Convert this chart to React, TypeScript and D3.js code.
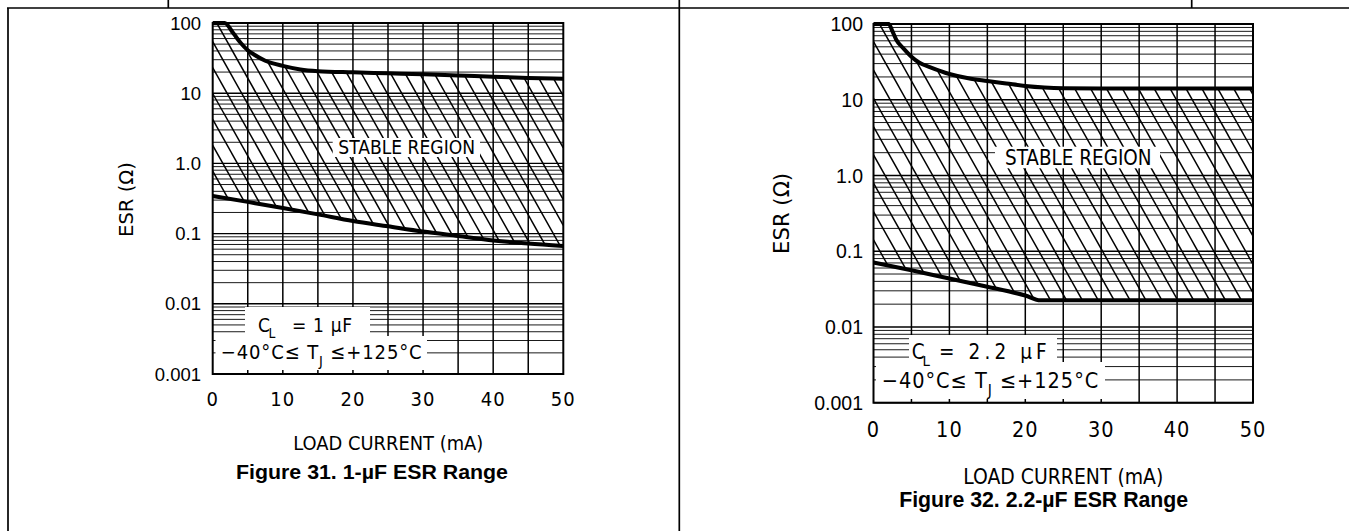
import React from 'react';
import * as d3 from 'd3';

// ---------- data ----------
const currentTicks = [0, 10, 20, 30, 40, 50];
const gridCurrents = [5, 10, 15, 20, 25, 30, 35, 40, 45];
const esrTicks = [100, 10, 1, 0.1, 0.01, 0.001];
const esrTickLabels = ['100', '10', '1.0', '0.1', '0.01', '0.001'];

// Figure 31: CL = 1 uF
const c1UpperCurrent = [0, 1.7, 3, 4, 5, 6, 7.5, 10, 12.5, 15, 20, 25, 30, 35, 40, 45, 50];
const c1UpperEsr = [100, 100, 70, 52, 41, 35, 29, 24.5, 21.8, 20.6, 19.8, 19.2, 18.6, 17.9, 17.1, 16.5, 16.1];
const c1LowerCurrent = [0, 5, 10, 15, 20, 25, 30, 35, 40, 45, 50];
const c1LowerEsr = [0.344, 0.283, 0.232, 0.188, 0.151, 0.127, 0.107, 0.0925, 0.08, 0.072, 0.0666];

// Figure 32: CL = 2.2 uF
const c22UpperCurrent = [0, 2, 2.5, 3, 4, 5, 6, 7.5, 10, 12.5, 15, 17.5, 20, 22.5, 25, 30, 40, 50];
const c22UpperEsr = [100, 100, 80, 62, 47, 37, 31, 26.8, 21.9, 19.2, 17.7, 16.4, 15.2, 14.5, 14.2, 14.1, 14.1, 14.1];
const c22LowerCurrent = [0, 5, 10, 15, 20, 22, 30, 40, 50];
const c22LowerEsr = [0.071, 0.056, 0.0436, 0.034, 0.026, 0.0225, 0.0225, 0.0225, 0.0225];

const NARROW = "'Liberation Sans Narrow', 'Arial Narrow', 'DejaVu Sans Condensed', sans-serif";
const SANS = "'Liberation Sans', Arial, Helvetica, sans-serif";

type Geo = {
  id: string;
  left: number; right: number; top: number; bottom: number;
  yTickX: number; yTickFont: number;
  xTickBase: number; xTickFont: number;
  xTitleX: number; xTitleBase: number; xTitleW: number; xTitleFont: number;
  yTitleX: number; yTitleY: number; yTitleW: number; yTitleFont: number;
  capX: number; capBase: number; capW: number; capFont: number; caption: string;
  stableBox: number[]; stableX: number; stableBase: number; stableW: number; stableFont: number;
  box1: number[]; box2: number[];
  cX: number; lX: number; restX: number; restW: number; line1Base: number; line1Font: number; rest: string;
  line2X: number; line2W: number; line2Base: number; line2Font: number;
  hatchY0: number; hatchD: number; hatchS: number;
};

function Chart({ g, upI, upE, loI, loE }: { g: Geo; upI: number[]; upE: number[]; loI: number[]; loE: number[] }) {
  const x = d3.scaleLinear().domain([0, 50]).range([g.left, g.right]);
  const y = d3.scaleLog().domain([0.001, 100]).range([g.bottom, g.top]);
  const line = d3.line<[number, number]>().x(d => x(d[0])).y(d => y(d[1])).curve(d3.curveMonotoneX);
  const upPts = upI.map((v, i) => [v, upE[i]] as [number, number]);
  const loPts = loI.map((v, i) => [v, loE[i]] as [number, number]);
  const upPath = line(upPts) as string;
  const loPath = line(loPts) as string;
  const clipA = `${upPath}L${g.right},${g.bottom}L${g.left},${g.bottom}Z`;
  const clipB = `${loPath}L${g.right},${g.top}L${g.left},${g.top}Z`;

  const minor: { v: number; major: boolean }[] = [];
  for (let e = -3; e <= 1; e++) {
    for (let m = 1; m <= 9; m++) minor.push({ v: m * Math.pow(10, e), major: m === 1 });
  }
  minor.push({ v: 100, major: true });

  const hatch: number[][] = [];
  const w = g.right - g.left;
  for (let k = -30; k <= 20; k++) {
    const y0 = g.hatchY0 + k * g.hatchD;
    hatch.push([g.left, y0, g.right, y0 + g.hatchS * w]);
  }

  return (
    <g>
      <defs>
        <clipPath id={`${g.id}-a`}><path d={clipA} /></clipPath>
        <clipPath id={`${g.id}-b`}><path d={clipB} /></clipPath>
      </defs>
      {/* horizontal grid */}
      {minor.map((d, i) => (
        <line key={`h${i}`} x1={g.left} x2={g.right} y1={y(d.v)} y2={y(d.v)}
          stroke={d.major ? '#000' : '#1a1a1a'} strokeWidth={d.major ? 1.4 : 1} />
      ))}
      {/* vertical grid */}
      {gridCurrents.map(c => (
        <line key={`v${c}`} x1={x(c)} x2={x(c)} y1={g.top} y2={g.bottom} stroke="#000" strokeWidth={1.5} />
      ))}
      {/* hatch */}
      <g clipPath={`url(#${g.id}-a)`}>
        <g clipPath={`url(#${g.id}-b)`}>
          {hatch.map((h, i) => (
            <line key={`ht${i}`} x1={h[0]} y1={h[1]} x2={h[2]} y2={h[3]} stroke="#000" strokeWidth={1.5} />
          ))}
        </g>
      </g>
      {/* boundaries */}
      <path d={upPath} fill="none" stroke="#000" strokeWidth={4} />
      <path d={loPath} fill="none" stroke="#000" strokeWidth={4} />
      {/* white label boxes */}
      <rect x={g.stableBox[0]} y={g.stableBox[1]} width={g.stableBox[2]} height={g.stableBox[3]} fill="#fff" />
      <rect x={g.box1[0]} y={g.box1[1]} width={g.box1[2]} height={g.box1[3]} fill="#fff" />
      <rect x={g.box2[0]} y={g.box2[1]} width={g.box2[2]} height={g.box2[3]} fill="#fff" />
      {/* plot border */}
      <rect x={g.left} y={g.top} width={w} height={g.bottom - g.top} fill="none" stroke="#000" strokeWidth={2} />
      {/* y tick labels */}
      {esrTicks.map((v, i) => (
        <text key={`yt${i}`} x={g.yTickX} y={y(v)} dy="0.36em" textAnchor="end"
          fontFamily={SANS} fontSize={g.yTickFont} fill="#000">{esrTickLabels[i]}</text>
      ))}
      {/* x tick labels */}
      {currentTicks.map(c => (
        <text key={`xt${c}`} x={x(c)} y={g.xTickBase} textAnchor="middle"
          fontFamily={NARROW} fontSize={g.xTickFont} letterSpacing={1} fill="#000">{c}</text>
      ))}
      {/* axis titles */}
      <text x={g.xTitleX} y={g.xTitleBase} textAnchor="middle" fontFamily={NARROW} fontSize={g.xTitleFont}
        textLength={g.xTitleW} lengthAdjust="spacingAndGlyphs" fill="#000">LOAD CURRENT (mA)</text>
      <text transform={`translate(${g.yTitleX},${g.yTitleY}) rotate(-90)`} x={0} y={0} dy="0.36em" textAnchor="middle"
        fontFamily={NARROW} fontSize={g.yTitleFont} textLength={g.yTitleW} lengthAdjust="spacingAndGlyphs" fill="#000">ESR (Ω)</text>
      {/* caption */}
      <text x={g.capX} y={g.capBase} textAnchor="middle" fontFamily={SANS} fontWeight="bold" fontSize={g.capFont}
        textLength={g.capW} lengthAdjust="spacingAndGlyphs" fill="#000">{g.caption}</text>
      {/* stable region */}
      <text x={g.stableX} y={g.stableBase} textAnchor="middle" fontFamily={NARROW} fontSize={g.stableFont}
        textLength={g.stableW} lengthAdjust="spacingAndGlyphs" fill="#000">STABLE REGION</text>
      {/* legend */}
      <text x={g.cX} y={g.line1Base} fontFamily={NARROW} fontSize={g.line1Font} fill="#000">C</text>
      <text x={g.lX} y={g.line1Base + g.line1Font * 0.36} fontFamily={NARROW} fontSize={g.line1Font * 0.72} fill="#000">L</text>
      <text x={g.restX} y={g.line1Base} fontFamily={NARROW} fontSize={g.line1Font}
        textLength={g.restW} lengthAdjust="spacing" fill="#000">{g.rest}</text>
      <text x={g.line2X} y={g.line2Base} fontFamily={NARROW} fontSize={g.line2Font}
        textLength={g.line2W} lengthAdjust="spacing" fill="#000">
        −40°C≤ T<tspan dy={g.line2Font * 0.36} fontSize={g.line2Font * 0.72}>J</tspan><tspan dy={-g.line2Font * 0.36}> ≤+125°C</tspan>
      </text>
    </g>
  );
}

const geoLeft: Geo = {
  id: 'f31',
  left: 212.7, right: 563.3, top: 23, bottom: 374,
  yTickX: 201, yTickFont: 18.5,
  xTickBase: 406, xTickFont: 20,
  xTitleX: 388.3, xTitleBase: 450, xTitleW: 190, xTitleFont: 19,
  yTitleX: 125.8, yTitleY: 199.5, yTitleW: 75, yTitleFont: 19.5,
  capX: 372, capBase: 479, capW: 272, capFont: 21, caption: 'Figure 31. 1-µF ESR Range',
  stableBox: [332.7, 138, 147.3, 19], stableX: 406.7, stableBase: 154, stableW: 136.7, stableFont: 19.5,
  box1: [245, 307, 125, 29], box2: [215.5, 336, 211.5, 34],
  cX: 258, lX: 268.5, restX: 292, restW: 60, line1Base: 331.5, line1Font: 19, rest: '=  1  µF',
  line2X: 220.7, line2W: 201, line2Base: 358.5, line2Font: 20,
  hatchY0: 41.7, hatchD: 25.9, hatchS: 1.78,
};

const geoRight: Geo = {
  id: 'f32',
  left: 873.5, right: 1253, top: 24, bottom: 402.7,
  yTickX: 863, yTickFont: 19.5,
  xTickBase: 436.5, xTickFont: 21.5,
  xTitleX: 1063.3, xTitleBase: 484, xTitleW: 200, xTitleFont: 20.5,
  yTitleX: 781.5, yTitleY: 213.4, yTitleW: 81, yTitleFont: 21,
  capX: 1043.7, capBase: 507, capW: 289, capFont: 22.5, caption: 'Figure 32. 2.2-µF ESR Range',
  stableBox: [995, 146.7, 165, 21.6], stableX: 1078.3, stableBase: 165, stableW: 146.7, stableFont: 21,
  box1: [909, 335, 148, 27], box2: [876, 362, 229, 37],
  cX: 911.7, lX: 922.5, restX: 939, restW: 107.7, line1Base: 358.5, line1Font: 20.5, rest: '=  2.2  µF',
  line2X: 881.7, line2W: 216.6, line2Base: 388, line2Font: 21.5,
  hatchY0: 41.7, hatchD: 28.3, hatchS: 1.78,
};

export default function App() {
  return (
    <svg width={1349} height={531} style={{ position: 'absolute', left: 0, top: 0, background: '#fff' }}>
      <rect x={0} y={0} width={1349} height={531} fill="#fff" />
      {/* page frame */}
      <line x1={7} x2={1349} y1={8} y2={8} stroke="#000" strokeWidth={1.7} />
      <line x1={8} x2={8} y1={8} y2={531} stroke="#000" strokeWidth={1.7} />
      <line x1={168.3} x2={168.3} y1={0} y2={8} stroke="#000" strokeWidth={1.7} />
      <line x1={679.3} x2={679.3} y1={0} y2={531} stroke="#000" strokeWidth={1.7} />
      <line x1={1191.7} x2={1191.7} y1={0} y2={8} stroke="#000" strokeWidth={1.7} />
      <Chart g={geoLeft} upI={c1UpperCurrent} upE={c1UpperEsr} loI={c1LowerCurrent} loE={c1LowerEsr} />
      <Chart g={geoRight} upI={c22UpperCurrent} upE={c22UpperEsr} loI={c22LowerCurrent} loE={c22LowerEsr} />
    </svg>
  );
}
